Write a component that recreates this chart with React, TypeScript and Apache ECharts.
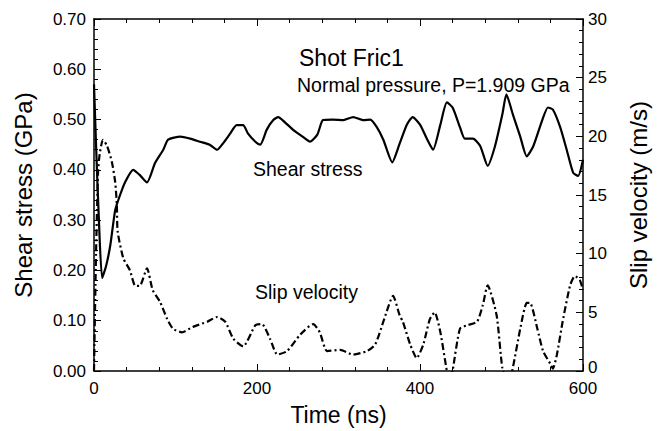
import React, { useEffect, useRef } from "react";
import * as echarts from "echarts";

// Shear stress (GPa) vs time (ns)
const shearTime = [0, 2.5, 6, 10, 15, 20, 26, 32, 38, 48, 56, 65, 75, 85, 91, 106, 118, 130, 142, 151, 158, 167, 175, 183, 189, 198, 204, 212, 220, 226, 234, 244, 256, 265, 274, 281, 293, 306, 318, 330, 339, 347, 355, 366, 375, 384, 391, 400, 409, 416, 425, 433, 440, 449, 455, 465, 474, 483, 492, 501, 506, 514, 523, 531, 539, 550, 557, 563, 572, 580, 588, 594, 600];
const shearValue = [0.57, 0.45, 0.30, 0.185, 0.21, 0.25, 0.32, 0.35, 0.375, 0.40, 0.39, 0.375, 0.414, 0.44, 0.46, 0.466, 0.462, 0.456, 0.45, 0.44, 0.452, 0.472, 0.489, 0.489, 0.472, 0.456, 0.45, 0.48, 0.499, 0.505, 0.495, 0.48, 0.466, 0.456, 0.47, 0.499, 0.50, 0.499, 0.505, 0.499, 0.50, 0.485, 0.46, 0.415, 0.452, 0.49, 0.505, 0.49, 0.46, 0.44, 0.49, 0.534, 0.524, 0.485, 0.462, 0.462, 0.447, 0.408, 0.447, 0.51, 0.55, 0.51, 0.466, 0.427, 0.447, 0.499, 0.524, 0.52, 0.485, 0.44, 0.394, 0.388, 0.42];

// Slip velocity (m/s) vs time (ns)
const slipTime = [0, 2.5, 5, 7, 11, 16, 22, 26, 28, 29, 36, 44, 50, 56, 65, 72, 81, 90, 97, 108, 121, 139, 151, 161, 171, 183, 198, 206, 216, 225, 237, 253, 269, 277, 286, 302, 318, 335, 345, 355, 367, 375, 379, 388, 396, 404, 412, 418, 425, 433, 437, 440, 449, 458, 470, 477, 483, 494, 501, 507, 513, 523, 531, 535, 544, 551, 560, 563, 568, 575, 584, 590, 596, 600];
const slipValue = [0, 10, 17, 18.5, 19.7, 19.2, 17.8, 16.1, 14.2, 11.9, 9.6, 8.6, 7.3, 7.25, 8.75, 6.9, 5.9, 4.4, 3.6, 3.3, 3.75, 4.2, 4.6, 4.2, 2.75, 2.1, 3.9, 4.0, 2.75, 1.4, 1.7, 3.1, 4.0, 3.3, 1.7, 1.8, 1.4, 1.7, 2.25, 4.2, 6.4, 4.75, 4.2, 2.25, 1.1, 2.25, 4.4, 5.0, 3.3, 0, -1, 0, 3.6, 3.9, 4.2, 5.6, 7.3, 4.75, 0.25, -1, 0, 3.6, 5.8, 5.8, 3.6, 1.7, 0.6, 0.2, 1.4, 4.2, 7.25, 8.1, 7.75, 6.9];

const timeTicks = [0, 200, 400, 600];
const stressTicks = [0, 0.1, 0.2, 0.3, 0.4, 0.5, 0.6, 0.7];
const velocityTicks = [0, 5, 10, 15, 20, 25, 30];

const FONT = "Liberation Sans, Arial, Helvetica, sans-serif";

export default function App() {
  const ref = useRef<HTMLDivElement>(null);
  useEffect(() => {
    if (!ref.current) return;
    const chart = echarts.init(ref.current, undefined, { renderer: "svg" });
    const axisLine = { show: true, onZero: false, lineStyle: { color: "#000", width: 1.5 } };
    const tick = { show: true, inside: true, length: 7, lineStyle: { color: "#000", width: 1 } };
    const minor = { show: true, splitNumber: 5, length: 4, lineStyle: { color: "#000", width: 1 } };
    const label = { color: "#000", fontSize: 17, fontFamily: FONT };
    const xBase = {
      type: "value",
      min: timeTicks[0],
      max: timeTicks[timeTicks.length - 1],
      interval: timeTicks[1] - timeTicks[0],
      axisLine,
      axisTick: tick,
      minorTick: minor,
      splitLine: { show: false },
      minorSplitLine: { show: false },
    };
    chart.setOption({
      animation: false,
      backgroundColor: "#fff",
      grid: { left: 94, right: 78, top: 19, bottom: 51 },
      title: [
        { text: "Shot Fric1", left: 299, top: 46, padding: 0, textStyle: { fontFamily: FONT, fontSize: 23, fontWeight: "normal", color: "#000" } },
        { text: "Normal pressure, P=1.909 GPa", left: 297, top: 75, padding: 0, textStyle: { fontFamily: FONT, fontSize: 19.5, fontWeight: "normal", color: "#000" } },
        { text: "Shear stress", left: 253, top: 159, padding: 0, textStyle: { fontFamily: FONT, fontSize: 19.5, fontWeight: "normal", color: "#000" } },
        { text: "Slip velocity", left: 255, top: 282, padding: 0, textStyle: { fontFamily: FONT, fontSize: 19.5, fontWeight: "normal", color: "#000" } },
      ],
      xAxis: [
        {
          ...xBase,
          position: "bottom",
          name: "Time (ns)",
          nameLocation: "middle",
          nameGap: 32,
          nameTextStyle: { color: "#000", fontSize: 23, fontFamily: FONT },
          axisLabel: { ...label, margin: 9 },
        },
        { ...xBase, position: "top", axisLabel: { show: false } },
      ],
      yAxis: [
        {
          type: "value",
          position: "left",
          min: stressTicks[0],
          max: stressTicks[stressTicks.length - 1],
          interval: 0.1,
          axisLine,
          axisTick: tick,
          minorTick: minor,
          splitLine: { show: false },
          minorSplitLine: { show: false },
          name: "Shear stress (GPa)",
          nameLocation: "middle",
          nameGap: 59,
          nameTextStyle: { color: "#000", fontSize: 24, fontFamily: FONT },
          axisLabel: { ...label, margin: 8, formatter: (v: number) => v.toFixed(2) },
        },
        {
          type: "value",
          position: "right",
          min: velocityTicks[0],
          max: velocityTicks[velocityTicks.length - 1],
          interval: 5,
          axisLine,
          axisTick: tick,
          minorTick: minor,
          splitLine: { show: false },
          minorSplitLine: { show: false },
          name: "Slip velocity (m/s)",
          nameLocation: "middle",
          nameGap: 43,
          nameTextStyle: { color: "#000", fontSize: 24, fontFamily: FONT },
          axisLabel: {
            ...label,
            margin: 5,
            formatter: (v: number) => (v === 0 ? "{z|0}" : String(v)),
            rich: { z: { color: "#000", fontSize: 17, fontFamily: FONT, padding: [0, 0, 7, 0] } },
          },
        },
      ],
      series: [
        {
          name: "Shear stress",
          type: "line",
          xAxisIndex: 0,
          yAxisIndex: 0,
          data: shearTime.map((t, i) => [t, shearValue[i]]),
          showSymbol: false,
          symbol: "none",
          smooth: 0.2,
          clip: true,
          lineStyle: { color: "#000", width: 2.2 },
        },
        {
          name: "Slip velocity",
          type: "line",
          xAxisIndex: 0,
          yAxisIndex: 1,
          data: slipTime.map((t, i) => [t, slipValue[i]]),
          showSymbol: false,
          symbol: "none",
          smooth: 0.2,
          clip: true,
          lineStyle: { color: "#000", width: 2.2, type: [7, 3, 2, 3] },
        },
      ],
    });
    return () => chart.dispose();
  }, []);
  return (
    <div
      ref={ref}
      style={{ position: "fixed", left: 0, top: 0, width: 661, height: 431, background: "#fff" }}
    />
  );
}
